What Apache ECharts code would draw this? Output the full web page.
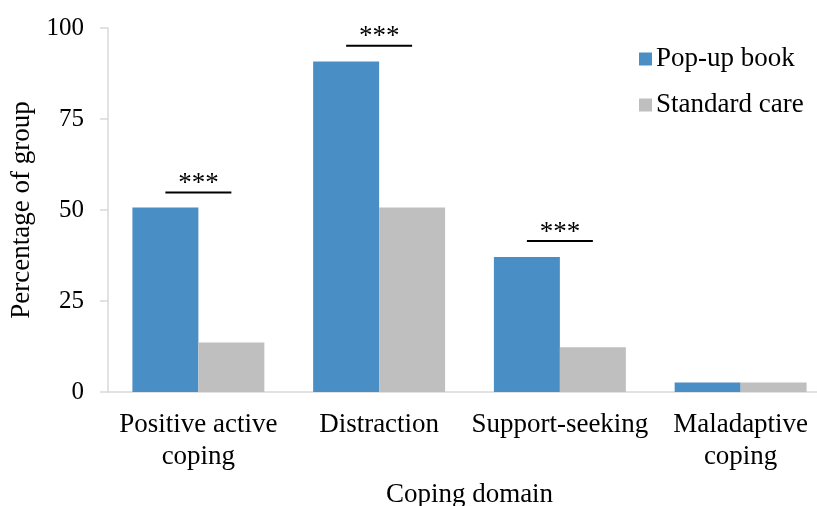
<!DOCTYPE html>
<html>
<head>
<meta charset="utf-8">
<script src="https://cdn.jsdelivr.net/npm/echarts@6/dist/echarts.min.js"></script>
<style>
  html, body { margin: 0; padding: 0; background: #fff; }
  #chart { width: 817px; height: 506px; }
</style>
</head>
<body>
<div id="chart"></div>
<script>
// Coping domains and the share of each group (%) that used them
const categories = ['Positive active\ncoping', 'Distraction', 'Support-seeking', 'Maladaptive\ncoping'];
const popUpBook = [50.7, 90.8, 37.1, 2.6];
const standardCare = [13.6, 50.7, 12.3, 2.6];
const yTicks = [0, 25, 50, 75, 100];

// Significance brackets: category index and the height (%) of the bracket line
const sigCategory = [0, 1, 2];
const sigHeight = [54.8, 95.1, 41.5];
const sigText = ['***', '***', '***'];

const FONT = '"Liberation Serif", "Times New Roman", serif';
const GAP = 0.27;

const chart = echarts.init(document.getElementById('chart'));

chart.setOption({
  animation: false,
  backgroundColor: '#fff',
  textStyle: { fontFamily: FONT, color: '#000' },
  // plot runs slightly past the right edge of the canvas
  grid: { left: 108, top: 28, width: 723, height: 364, containLabel: false, outerBoundsMode: 'none' },
  legend: {
    orient: 'vertical',
    left: 639,
    top: 44,
    padding: 0,
    itemWidth: 13,
    itemHeight: 13,
    itemGap: 16,
    icon: 'rect',
    textStyle: { fontFamily: FONT, fontSize: 27, color: '#000', lineHeight: 30, padding: [0, 0, 0, -1] },
    data: ['Pop-up book', 'Standard care']
  },
  xAxis: {
    type: 'category',
    data: categories,
    name: 'Coping domain',
    nameLocation: 'middle',
    nameGap: 89,
    nameTextStyle: { fontFamily: FONT, fontSize: 27, color: '#000' },
    axisLine: { lineStyle: { color: '#d9d9d9', width: 1.5 } },
    axisTick: { show: false },
    axisLabel: { fontFamily: FONT, fontSize: 27, color: '#000', lineHeight: 32, margin: 17, interval: 0 }
  },
  yAxis: {
    type: 'value',
    min: yTicks[0],
    max: yTicks[yTicks.length - 1],
    interval: yTicks[1] - yTicks[0],
    name: 'Percentage of group',
    nameLocation: 'middle',
    nameGap: 73,
    nameTextStyle: { fontFamily: FONT, fontSize: 27, color: '#000' },
    axisLine: { show: true, lineStyle: { color: '#d9d9d9', width: 1.5 } },
    axisTick: { show: true, inside: false, length: 8, lineStyle: { color: '#d9d9d9', width: 1.5 } },
    splitLine: { show: false },
    axisLabel: { fontFamily: FONT, fontSize: 25, color: '#000', margin: 24 }
  },
  series: [
    {
      name: 'Pop-up book',
      type: 'bar',
      data: popUpBook,
      barGap: '0%',
      barCategoryGap: (GAP * 100) + '%',
      itemStyle: { color: '#4a8ec6' }
    },
    {
      name: 'Standard care',
      type: 'bar',
      data: standardCare,
      barGap: '0%',
      barCategoryGap: (GAP * 100) + '%',
      itemStyle: { color: '#bfbfbf' }
    },
    {
      // Significance bracket spanning the two bars of a category, with stars above
      type: 'custom',
      silent: true,
      z: 5,
      data: sigCategory.map((c, i) => [c, sigHeight[i], sigText[i]]),
      renderItem: function (params, api) {
        const p = api.coord([api.value(0), api.value(1)]);
        const band = api.size([1, 0])[0];
        const bw = band * (1 - GAP) / 2;
        const x1 = p[0] - bw / 2;
        const x2 = p[0] + bw / 2;
        return {
          type: 'group',
          children: [
            {
              type: 'line',
              shape: { x1: x1, y1: p[1], x2: x2, y2: p[1] },
              style: { stroke: '#000', lineWidth: 2 }
            },
            {
              type: 'text',
              style: {
                text: api.value(2),
                x: (x1 + x2) / 2,
                y: p[1] + 5,
                align: 'center',
                verticalAlign: 'bottom',
                font: '27px ' + FONT,
                fill: '#000'
              }
            }
          ]
        };
      }
    }
  ]
});
</script>
</body>
</html>
